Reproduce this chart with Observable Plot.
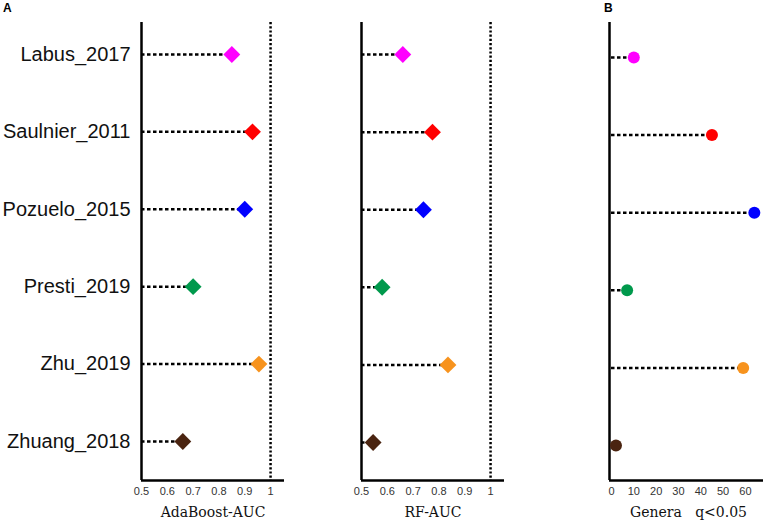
<!DOCTYPE html>
<html>
<head>
<meta charset="utf-8">
<script src="https://cdn.jsdelivr.net/npm/d3@7"></script>
<script src="https://cdn.jsdelivr.net/npm/@observablehq/plot@0.6"></script>
<style>
  html, body { margin: 0; padding: 0; background: #fff; }
  #wrap { position: relative; width: 767px; height: 525px; overflow: hidden; font-family: "Liberation Sans", Arial, sans-serif; }
  .panel { position: absolute; top: 0; }
  .tag { position: absolute; font-weight: bold; font-size: 12px; font-family: "Liberation Sans", Arial, sans-serif; }
</style>
</head>
<body>
<div id="wrap">
  <div class="tag" style="left:3px; top:1px;">A</div>
  <div class="tag" style="left:604px; top:1px;">B</div>
</div>
<script>
const studies = ["Labus_2017", "Saulnier_2011", "Pozuelo_2015", "Presti_2019", "Zhu_2019", "Zhuang_2018"];
const colors = ["#ff00ff", "#ff0000", "#0000ff", "#00994c", "#f7931e", "#4a2410"];
const adaboostAUC = [0.85, 0.93, 0.90, 0.70, 0.955, 0.66];
const rfAUC = [0.66, 0.775, 0.74, 0.58, 0.835, 0.545];
const generaQ = [10, 45, 64, 7, 59, 2];
const aucTicks = [0.5, 0.6, 0.7, 0.8, 0.9, 1];
const generaTicks = [0, 10, 20, 30, 40, 50, 60];

const rows = (vals) => studies.map((s, i) => ({study: s, row: i, value: vals[i], color: colors[i]}));

function panel({left, width, marginLeft, marginRight, domain, ticks, values, symbol, r, title, showY, refLine, padTop, padBottom, axisDx}) {
  const data = rows(values);
  const yBottom = studies.length - 1 + padBottom;
  const yTop = -padTop;
  const marks = [];
  if (refLine !== undefined) marks.push(Plot.ruleX([refLine], {stroke: "#000", strokeWidth: 2.5, strokeDasharray: "2.2,2"}));
  marks.push(
    Plot.ruleX([domain[0]], {stroke: "#000", strokeWidth: 2.5, dx: axisDx || 0}),
    Plot.ruleY(data, {y: "row", x1: domain[0], x2: "value", stroke: "#000", strokeWidth: 2.5, strokeDasharray: "3.5,2.5"}),
    Plot.dot(data, {y: "row", x: "value", fill: "color", symbol, r, stroke: null}),
    Plot.axisX({ticks, tickSize: 0, tickPadding: 7, fontSize: 11, fill: "#333", tickFormat: d => String(d), label: null}),
    Plot.text([title], {frameAnchor: "bottom", dy: 36, fontSize: 14, fontFamily: "DejaVu Serif, serif", fill: "#111"})
  );
  if (showY) marks.push(Plot.axisY({ticks: d3.range(studies.length), tickFormat: i => studies[i], tickSize: 0, tickPadding: 11, fontSize: 20, fill: "#111", label: null}));
  else marks.push(Plot.axisY({ticks: [], label: null}));
  marks.push(Plot.ruleY([yBottom], {stroke: "#000", strokeWidth: 2.6, dx: axisDx || 0}));
  const chart = Plot.plot({
    width, height: 525,
    marginLeft, marginRight, marginTop: 22, marginBottom: 45,
    style: {background: "transparent", fontFamily: "Liberation Sans, Arial, sans-serif", overflow: "visible"},
    x: {domain},
    y: {domain: [yBottom, yTop]},
    marks
  });
  chart.classList.add("panel");
  chart.style.left = left + "px";
  document.getElementById("wrap").appendChild(chart);
}

panel({left: 0, width: 290, marginLeft: 141, marginRight: 6, domain: [0.5, 1.054], ticks: aucTicks,
  values: adaboostAUC, symbol: "diamond2", r: 7.6, title: "AdaBoost-AUC", showY: true, refLine: 1, padTop: 0.413, padBottom: 0.504});
panel({left: 300, width: 210, marginLeft: 61, marginRight: 6, domain: [0.5, 1.054], ticks: aucTicks,
  values: rfAUC, symbol: "diamond2", r: 7.6, title: "RF-AUC", showY: false, refLine: 1, padTop: 0.413, padBottom: 0.49});
panel({left: 560, width: 207, marginLeft: 51, marginRight: 2, domain: [0, 69], ticks: generaTicks,
  values: generaQ, symbol: "circle", r: 6, title: "Genera   q<0.05", showY: false, padTop: 0.451, padBottom: 0.451, axisDx: -2});
</script>
</body>
</html>
